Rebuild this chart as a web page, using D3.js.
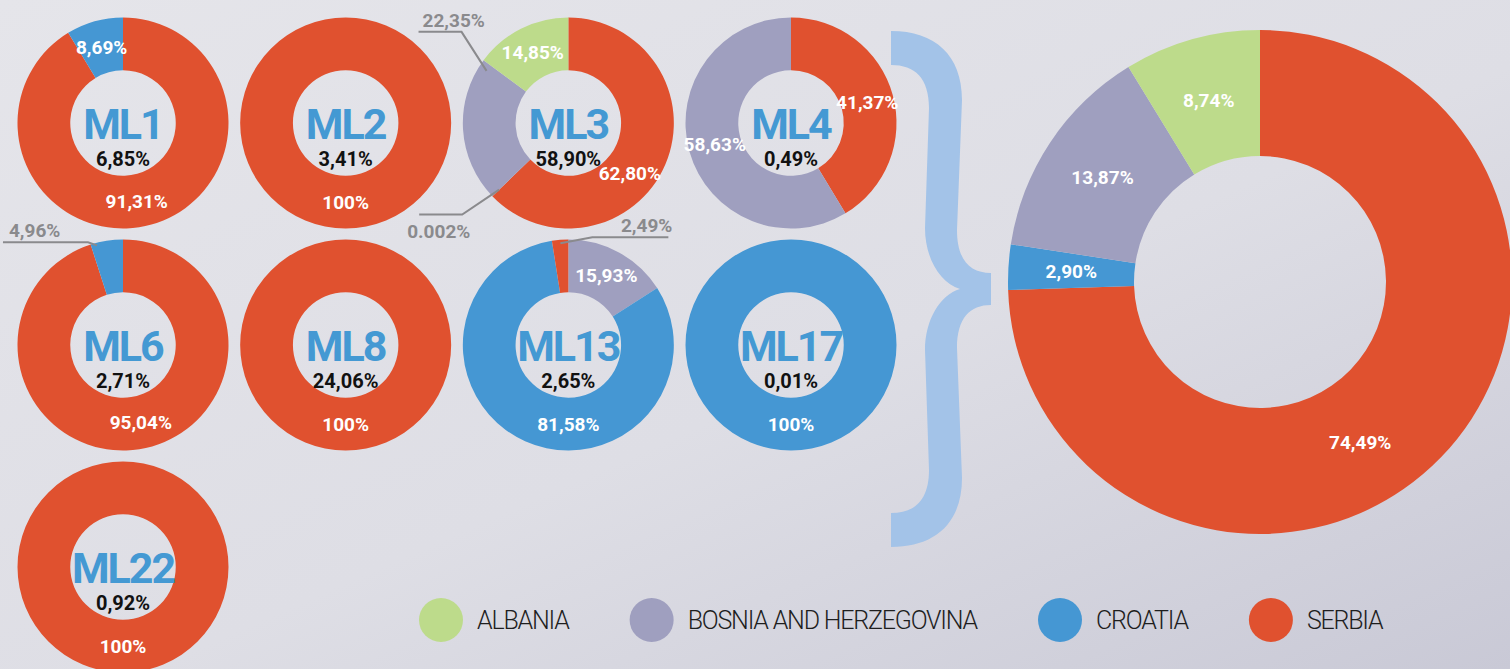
<!DOCTYPE html>
<html>
<head>
<meta charset="utf-8">
<script src="https://cdn.jsdelivr.net/npm/d3@7"></script>
<style>
  html, body { margin: 0; padding: 0; overflow: hidden; }
  svg { display: block; }
</style>
</head>
<body>
<svg id="chart"></svg>
<script>
// --- data ---
const countries = ['ALBANIA', 'BOSNIA AND HERZEGOVINA', 'CROATIA', 'SERBIA'];
const lineNames = ['ML1', 'ML2', 'ML3', 'ML4', 'ML6', 'ML8', 'ML13', 'ML17', 'ML22'];
const lineShares = [6.85, 3.41, 58.90, 0.49, 2.71, 24.06, 2.65, 0.01, 0.92];
// slices of each line, in drawing order (clockwise from 12 o'clock)
const ml1 = [['SERBIA', 91.31], ['CROATIA', 8.69]];
const ml2 = [['SERBIA', 100]];
const ml3 = [['SERBIA', 62.80], ['CROATIA', 0.002], ['BOSNIA AND HERZEGOVINA', 22.35], ['ALBANIA', 14.85]];
const ml4 = [['SERBIA', 41.37], ['BOSNIA AND HERZEGOVINA', 58.63]];
const ml6 = [['SERBIA', 95.04], ['CROATIA', 4.96]];
const ml8 = [['SERBIA', 100]];
const ml13 = [['BOSNIA AND HERZEGOVINA', 15.93], ['CROATIA', 81.58], ['SERBIA', 2.49]];
const ml17 = [['CROATIA', 100]];
const ml22 = [['SERBIA', 100]];
const lineSlices = [ml1, ml2, ml3, ml4, ml6, ml8, ml13, ml17, ml22];
const totalSlices = [['SERBIA', 74.49], ['CROATIA', 2.90], ['BOSNIA AND HERZEGOVINA', 13.87], ['ALBANIA', 8.74]];

// --- layout ---
const width = 1510;
const height = 669;
const colour = d3.scaleOrdinal()
  .domain(countries)
  .range(['#bddb8b', '#9f9fbf', '#4597d3', '#e0512f']);
const colX = d3.scaleLinear().domain([0, 3]).range([123, 791]);
const rowY = d3.scaleLinear().domain([0, 2]).range([123, 567]);
const smallR = 105.5;
const bigCx = 1260, bigCy = 282, bigR = 252;
const deg = Math.PI / 180;

// labels moved by hand in the original
const labelAngle = { 'ML3|SERBIA': 129, 'ML13|CROATIA': 180, 'ALL|SERBIA': 148, 'ML6|SERBIA': 167, 'ML1|SERBIA': 170 };
// slices labelled outside the ring with a leader
const leaders = {
  'ML3|BOSNIA AND HERZEGOVINA': { t: 0.95, r: 97, ex: -25, ey: -39, len: -43, tx: 4, ty: -5, anchor: 'start' },
  'ML3|CROATIA': { t: 0.5, r: 96, ex: -37, ey: 25, len: -43, tx: -12, ty: 23, anchor: 'start' },
  'ML6|CROATIA': { t: 0.18, r: 103, ex: -9, ey: -3, len: -85, tx: 6, ty: -5, anchor: 'start' },
  'ML13|SERBIA': { t: 0.5, r: 102, ex: 32, ey: -6, len: 76, tx: 4, ty: -5, anchor: 'end' }
};

const fmt = v => v === 100 ? '100%' : v < 0.01 ? `${v}%` : d3.format('.2f')(v).replace('.', ',') + '%';
const pie = d3.pie().sort(null).value(d => d[1]);

const svg = d3.select('#chart').attr('width', width).attr('height', height);

const grad = svg.append('defs').append('linearGradient')
  .attr('id', 'bg').attr('x1', 0).attr('y1', 0).attr('x2', 1).attr('y2', 1);
grad.append('stop').attr('offset', 0).attr('stop-color', '#e5e5ea');
grad.append('stop').attr('offset', 0.55).attr('stop-color', '#dedee5');
grad.append('stop').attr('offset', 1).attr('stop-color', '#c9c9d6');
svg.append('rect').attr('width', width).attr('height', height).attr('fill', 'url(#bg)');

function drawDonut(g, key, slices, rOuter, labelSize) {
  const arc = d3.arc().innerRadius(rOuter / 2).outerRadius(rOuter);
  const rLabel = rOuter * 0.75;
  const arcs = pie(slices);

  g.selectAll('path.slice')
    .data(arcs)
    .join('path')
    .attr('class', 'slice')
    .attr('d', arc)
    .attr('fill', d => colour(d.data[0]));

  const inside = arcs.filter(d => !leaders[`${key}|${d.data[0]}`]);
  g.selectAll('text.value')
    .data(inside)
    .join('text')
    .attr('class', 'value')
    .attr('transform', d => {
      const override = labelAngle[`${key}|${d.data[0]}`];
      const a = override != null ? override * deg : (d.startAngle + d.endAngle) / 2;
      return `translate(${rLabel * Math.sin(a)},${-rLabel * Math.cos(a)})`;
    })
    .attr('text-anchor', 'middle')
    .attr('dy', '0.36em')
    .attr('fill', '#fff')
    .style('font', `bold ${labelSize}px Roboto, sans-serif`)
    .text(d => fmt(d.data[1]));

  const outside = arcs.filter(d => leaders[`${key}|${d.data[0]}`]);
  outside.forEach(d => {
    const L = leaders[`${key}|${d.data[0]}`];
    const a = d.startAngle + (d.endAngle - d.startAngle) * L.t;
    const px = L.r * Math.sin(a), py = -L.r * Math.cos(a);
    const ex = px + L.ex, ey = py + L.ey;
    const hx = ex + L.len;
    g.append('path')
      .attr('d', `M${px},${py}L${ex},${ey}L${hx},${ey}`)
      .attr('fill', 'none')
      .attr('stroke', '#8a8a8d')
      .attr('stroke-width', 2);
    const textX = L.anchor === 'end' ? hx + L.tx : Math.min(hx, ex) + L.tx;
    g.append('text')
      .attr('x', textX)
      .attr('y', ey + L.ty)
      .attr('text-anchor', L.anchor)
      .attr('fill', '#8a8a8d')
      .style('font', 'bold 19px Roboto, sans-serif')
      .text(fmt(d.data[1]));
  });
}

// --- small donuts ---
lineNames.forEach((name, i) => {
  const g = svg.append('g')
    .attr('transform', `translate(${colX(i % 4)},${rowY(Math.floor(i / 4))})`);
  drawDonut(g, name, lineSlices[i], smallR, 19);
  g.append('text')
    .attr('y', 16)
    .attr('text-anchor', 'middle')
    .attr('fill', '#4499d3')
    .style('font', 'bold 43px Roboto, sans-serif')
    .style('letter-spacing', '-2px')
    .text(name);
  g.append('text')
    .attr('y', 43)
    .attr('text-anchor', 'middle')
    .attr('fill', '#111')
    .style('font', 'bold 20px Roboto, sans-serif')
    .text(fmt(lineShares[i]));
});

// --- brace ---
const bx = 891, bt = 31, bb = 547, bm = (bt + bb) / 2;
svg.append('path')
  .attr('fill', '#a3c3e8')
  .attr('d', [
    `M${bx},${bt}`,
    `C${bx + 44},${bt} ${bx + 71},${bt + 24} ${bx + 71},${bt + 69}`,
    `L${bx + 66},${bm - 59}`,
    `C${bx + 66},${bm - 29} ${bx + 79},${bm - 16} ${bx + 100},${bm - 16}`,
    `L${bx + 100},${bm + 16}`,
    `C${bx + 79},${bm + 16} ${bx + 66},${bm + 29} ${bx + 66},${bm + 59}`,
    `L${bx + 71},${bb - 69}`,
    `C${bx + 71},${bb - 24} ${bx + 44},${bb} ${bx},${bb}`,
    `L${bx},${bb - 34}`,
    `C${bx + 24},${bb - 34} ${bx + 38},${bb - 47} ${bx + 38},${bb - 77}`,
    `L${bx + 34},${bm + 61}`,
    `C${bx + 34},${bm + 31} ${bx + 49},${bm + 6} ${bx + 69},${bm}`,
    `C${bx + 49},${bm - 6} ${bx + 34},${bm - 31} ${bx + 34},${bm - 61}`,
    `L${bx + 38},${bt + 77}`,
    `C${bx + 38},${bt + 47} ${bx + 24},${bt + 34} ${bx},${bt + 34}`,
    'Z'
  ].join(''));

// --- total donut ---
const big = svg.append('g').attr('transform', `translate(${bigCx},${bigCy})`);
drawDonut(big, 'ALL', totalSlices, bigR, 19);

// --- legend ---
const legend = svg.append('g').attr('transform', 'translate(0,620)');
let cx = 441;
countries.forEach(c => {
  legend.append('circle').attr('cx', cx).attr('r', 22).attr('fill', colour(c));
  const t = legend.append('text')
    .attr('x', cx + 36)
    .attr('dy', '0.36em')
    .attr('fill', '#1e1e1e')
    .style('font', '300 25px Roboto, sans-serif')
    .style('letter-spacing', '-1.2px')
    .text(c);
  cx += 36 + t.node().getComputedTextLength() + 83;
});
</script>
</body>
</html>
